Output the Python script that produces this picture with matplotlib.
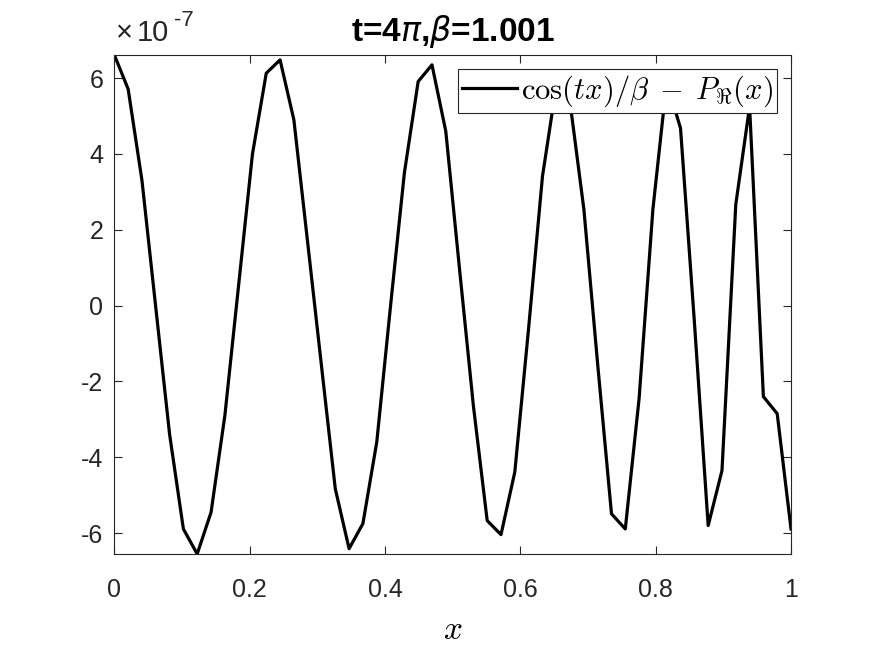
import numpy as np
import matplotlib
matplotlib.use("Agg")
import matplotlib.pyplot as plt
from matplotlib.font_manager import FontProperties
from matplotlib.ticker import FuncFormatter
from matplotlib.transforms import offset_copy

# sample points (50 nodes on [0, 1])
x_vals = [0.0000, 0.0204, 0.0408, 0.0612, 0.0816, 0.1020, 0.1224, 0.1429, 0.1633, 0.1837,
          0.2041, 0.2245, 0.2449, 0.2653, 0.2857, 0.3061, 0.3265, 0.3469, 0.3673, 0.3878,
          0.4082, 0.4286, 0.4490, 0.4694, 0.4898, 0.5102, 0.5306, 0.5510, 0.5714, 0.5918,
          0.6122, 0.6327, 0.6531, 0.6735, 0.6939, 0.7143, 0.7347, 0.7551, 0.7755, 0.7959,
          0.8163, 0.8367, 0.8571, 0.8776, 0.8980, 0.9184, 0.9388, 0.9592, 0.9796, 1.0000]

# error values, in units of 1e-7
err_vals = [6.61, 5.71, 3.30, -0.05, -3.39, -5.89, -6.55, -5.45, -2.90, 0.55,
            4.00, 6.13, 6.48, 4.90, 1.66, -1.59, -4.83, -6.41, -5.75, -3.60,
            0.00, 3.50, 5.91, 6.35, 4.60, 0.95, -2.64, -5.67, -6.04, -4.39,
            -0.60, 3.41, 5.80, 5.35, 2.54, -1.55, -5.49, -5.89, -2.45, 2.54,
            5.90, 4.68, -0.40, -5.80, -4.35, 2.67, 5.25, -2.40, -2.85, -5.89]
scale = 1e-7

x = np.array(x_vals)
y = np.array(err_vals) * scale

plt.rcParams['font.family'] = ['Liberation Sans', 'DejaVu Sans']
plt.rcParams['axes.unicode_minus'] = False

axis_col = '#262626'

fig = plt.figure(figsize=(8.75, 6.56), dpi=100)
ax = fig.add_axes([0.1307, 0.1555, 0.7733, 0.7607])

ax.plot(x, y, color='black', linewidth=2.3,
        label=r'$\cos(tx)/\beta\;-\;P_{\Re}(x)$')

# tight limits like MATLAB "axis tight"
ax.set_xlim(x.min(), x.max())
ax.set_ylim(y.min(), y.max())

ax.set_xticks([0, 0.2, 0.4, 0.6, 0.8, 1.0])
ax.set_xticklabels(['0', '0.2', '0.4', '0.6', '0.8', '1'])
ax.set_yticks(np.arange(-6, 7, 2) * scale)
ax.yaxis.set_major_formatter(FuncFormatter(lambda v, p: '%d' % round(v / scale)))

ax.tick_params(direction='in', length=6, width=0.8, top=True, right=True,
               labelsize=18, colors=axis_col)
ax.tick_params(axis='y', pad=8)
ax.tick_params(axis='x', pad=17)
for s in ax.spines.values():
    s.set_color(axis_col)
    s.set_linewidth(0.8)

# exponent label, MATLAB style (x10^-7 above the y axis)
def exp_text(s, dx, dy, size):
    tr = offset_copy(ax.transAxes, fig=fig, x=dx, y=dy, units='dots')
    ax.text(0.0, 1.0, s, transform=tr, fontsize=size, color=axis_col,
            ha='left', va='bottom')

exp_text('\u00d7', 2, 8, 21)
exp_text('10', 22, 8, 21)
exp_text('-7', 60, 24, 16)

ax.set_title(r't=4$\pi$,$\beta$=1.001', fontsize=24, fontweight='bold', pad=10)
ax.set_xlabel(r'$x$', fontsize=24, math_fontfamily='cm', labelpad=10)

leg = ax.legend(loc='upper right', prop=FontProperties(size=22, math_fontfamily='cm'),
                frameon=True, fancybox=False, framealpha=1, edgecolor=axis_col,
                handlelength=1.8, handletextpad=0.1, borderpad=0.15,
                borderaxespad=0.45)
leg.get_frame().set_linewidth(0.8)

fig.savefig('out.png', dpi=100)
